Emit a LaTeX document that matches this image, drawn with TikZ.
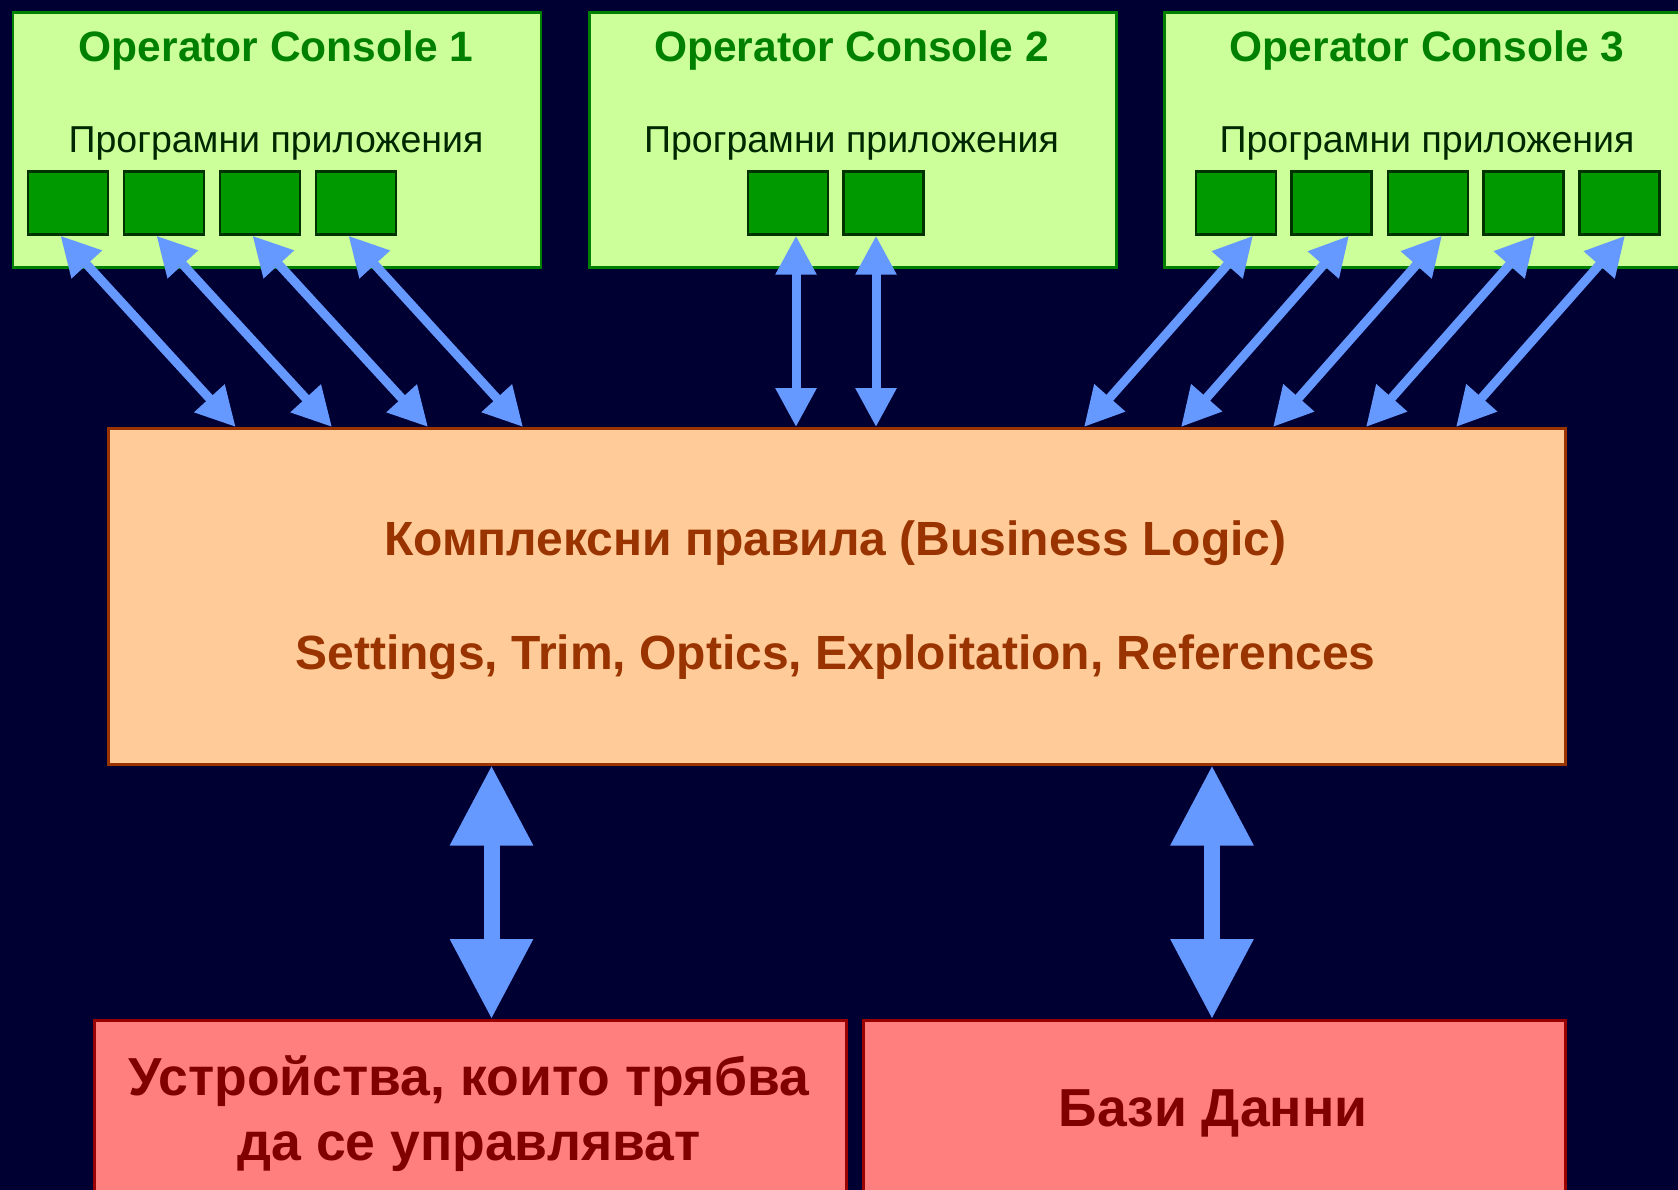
\documentclass[tikz,border=0pt]{standalone}
\usepackage{fontspec}
\setmainfont{Liberation Sans}
\usetikzlibrary{arrows.meta,calc}
\definecolor{bg}{HTML}{000033}
\definecolor{consfill}{HTML}{CCFF99}
\definecolor{consline}{HTML}{008000}
\definecolor{constext}{HTML}{008000}
\definecolor{apptext}{HTML}{002800}
\definecolor{sqfill}{HTML}{009900}
\definecolor{sqline}{HTML}{003300}
\definecolor{logfill}{HTML}{FFCC99}
\definecolor{logline}{HTML}{993300}
\definecolor{logtext}{HTML}{993300}
\definecolor{redfill}{HTML}{FF7F7F}
\definecolor{redline}{HTML}{990000}
\definecolor{redtext}{HTML}{800000}
\definecolor{arrowblue}{HTML}{6699FF}
\begin{document}
\begin{tikzpicture}[x=1pt,y=-1pt,
  console/.style={draw=consline,fill=consfill,line width=2.5pt,rectangle,anchor=north west,minimum height=255pt,inner sep=0pt},
  appbox/.style={draw=sqline,fill=sqfill,line width=2.5pt,rectangle,minimum width=80pt,minimum height=63pt,inner sep=0pt},
  logicbox/.style={draw=logline,fill=logfill,line width=2.5pt,rectangle,anchor=north west,inner sep=0pt},
  redbox/.style={draw=redline,fill=redfill,line width=2.5pt,rectangle,anchor=north west,inner sep=0pt},
  ctitle/.style={anchor=base,text=constext,font=\fontsize{42.5}{50}\selectfont\bfseries,inner sep=0pt},
  apptitle/.style={anchor=base,text=apptext,font=\fontsize{37.5}{45}\selectfont,inner sep=0pt},
  logictext/.style={anchor=base,text=logtext,font=\fontsize{48}{58}\selectfont\bfseries,inner sep=0pt},
  redtextstyle/.style={anchor=base,text=redtext,font=\fontsize{53.5}{64}\selectfont\bfseries,inner sep=0pt},
  arr/.style={{Triangle[length=39pt,width=39pt]}-{Triangle[length=39pt,width=39pt]},line width=9pt,draw=arrowblue},
  bigarr/.style={{Triangle[length=80pt,width=79pt]}-{Triangle[length=80pt,width=79pt]},line width=16pt,draw=arrowblue}
]
\useasboundingbox[fill=bg] (0,0) rectangle (1678,1190);

% consoles
\node[console,minimum width=528pt] (c1) at (11.8,11.5) {};
\node[console,minimum width=527pt] (c2) at (588,11.5) {};
\node[console,minimum width=528pt] (c3) at (1163,11.5) {};

\node[ctitle] (c1t) at (276,62) {Operator Console 1};
\node[ctitle] (c2t) at (851.5,62) {Operator Console 2};
\node[ctitle] (c3t) at (1427,62) {Operator Console 3};

\node[apptitle] (c1a) at (276,153) {Програмни приложения};
\node[apptitle] (c2a) at (851.5,153) {Програмни приложения};
\node[apptitle] (c3a) at (1427,153) {Програмни приложения};

% application squares
\node[appbox] (s11) at (68,203) {};
\node[appbox] (s12) at (164,203) {};
\node[appbox] (s13) at (260,203) {};
\node[appbox] (s14) at (356,203) {};
\node[appbox] (s21) at (788,203) {};
\node[appbox] (s22) at (883.5,203) {};
\node[appbox] (s31) at (1236,203) {};
\node[appbox] (s32) at (1331.5,203) {};
\node[appbox] (s33) at (1428,203) {};
\node[appbox] (s34) at (1523.5,203) {};
\node[appbox] (s35) at (1619.5,203) {};

% business logic
\node[logicbox,minimum width=1457pt,minimum height=336pt] (logic) at (107,427) {};
\node[logictext] (l1) at (835.5,555) {Комплексни правила (Business Logic)};
\node[logictext] (l2) at (835.5,669) {Settings, Trim, Optics, Exploitation, References};

% bottom boxes
\node[redbox,minimum width=752pt,minimum height=220pt] (dev) at (93,1019) {};
\node[redbox,minimum width=702pt,minimum height=220pt] (db) at (862,1019) {};
\node[redtextstyle] (d1) at (469,1095) {Устройства, които трябва};
\node[redtextstyle] (d2) at (469,1160) {да се управляват};
\node[redtextstyle] (d3) at (1213,1126) {Бази Данни};

% end points on the logic box
\path (logic.north west) ++(128.7,0) coordinate (b11)
      (logic.north west) ++(225,0) coordinate (b12)
      (logic.north west) ++(321,0) coordinate (b13)
      (logic.north west) ++(416,0) coordinate (b14)
      (logic.north west) ++(689,0) coordinate (b21)
      (logic.north west) ++(769,0) coordinate (b22)
      (logic.north west) ++(977,0) coordinate (b31)
      (logic.north west) ++(1074,0) coordinate (b32)
      (logic.north west) ++(1166,0) coordinate (b33)
      (logic.north west) ++(1259,0) coordinate (b34)
      (logic.north west) ++(1349,0) coordinate (b35);

\draw[arr] ([xshift=-7.5pt]s11.south) -- (b11);
\draw[arr] ([xshift=-7.5pt]s12.south) -- (b12);
\draw[arr] ([xshift=-7.5pt]s13.south) -- (b13);
\draw[arr] ([xshift=-7.5pt]s14.south) -- (b14);
\draw[arr] ([xshift=8pt]s21.south) -- (b21);
\draw[arr] ([xshift=-7.5pt]s22.south) -- (b22);
\draw[arr] ([xshift=17pt]s31.south) -- (b31);
\draw[arr] ([xshift=17.5pt]s32.south) -- (b32);
\draw[arr] ([xshift=14pt]s33.south) -- (b33);
\draw[arr] ([xshift=11.5pt]s34.south) -- (b34);
\draw[arr] ([xshift=5.5pt]s35.south) -- (b35);

% big arrows
\path (logic.south west) ++(384.5,0) coordinate (g1t)
      (logic.south west) ++(1105,0) coordinate (g2t);
\path (dev.north west) ++(398.5,0) coordinate (g1b)
      (db.north west) ++(350,0) coordinate (g2b);
\draw[bigarr] (g1t) -- (g1b);
\draw[bigarr] (g2t) -- (g2b);
\end{tikzpicture}
\end{document}
